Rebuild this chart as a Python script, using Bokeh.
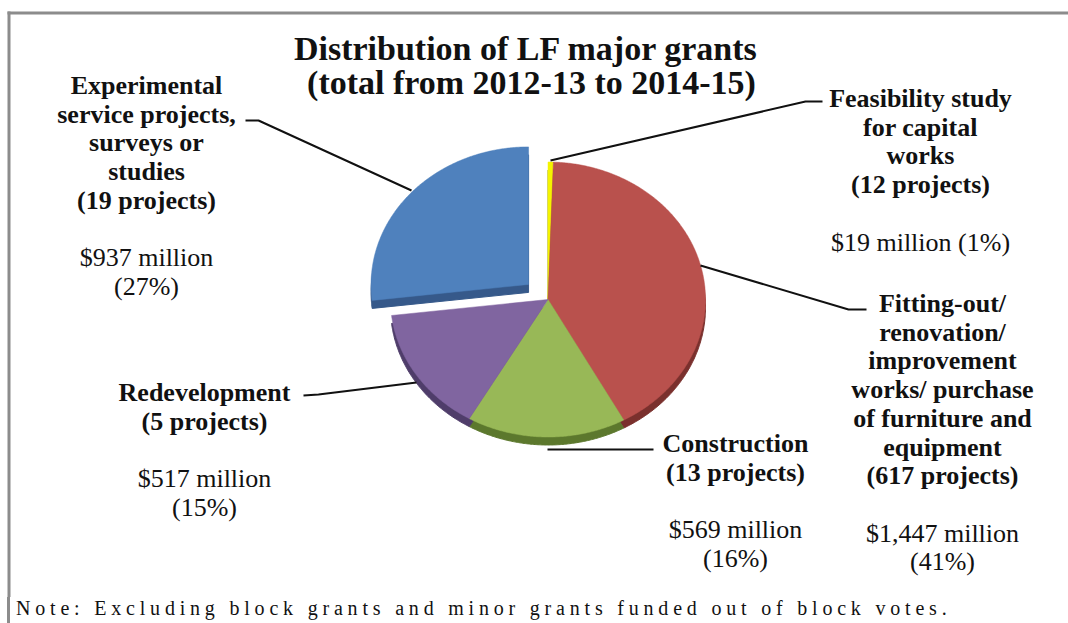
import numpy as np
from bokeh.plotting import figure
from bokeh.models import Range1d, Div
from bokeh.layouts import column
from bokeh.embed import file_html
from bokeh.resources import INLINE
from bokeh.core.properties import value

# ---------------- data ----------------
title_lines = ["Distribution  of LF major grants", "(total from 2012-13 to 2014-15)"]
categories = [
    "Feasibility study for capital works",
    "Fitting-out/ renovation/ improvement works/ purchase of furniture and equipment",
    "Construction",
    "Redevelopment",
    "Experimental service projects, surveys or studies",
]
name_lines = [
    ["Feasibility study", "for capital", "works"],
    ["Fitting-out/", "renovation/", "improvement", "works/ purchase", "of furniture and", "equipment"],
    ["Construction"],
    ["Redevelopment"],
    ["Experimental", "service projects,", "surveys or", "studies"],
]
projects = [12, 617, 13, 5, 19]
amounts = [19, 1447, 569, 517, 937]  # $ million
note = "Note: Excluding block grants and minor grants funded out of block votes."

# ---------------- style / layout ----------------
face_colors = ["#F4F400", "#B9514D", "#98B857", "#8065A0", "#4F81BD"]
side_colors = ["#9A9A00", "#7A302D", "#5C782D", "#4F3D6A", "#36598A"]
explode = [0, 0, 0, 0, 26]
label_anchor = [(920, 98), (942, 303), (735, 443), (204, 392), (146, 85)]
amount_one_line = [True, False, False, False, False]
LINE = 28.7

W, H = 1068, 597
p = figure(width=W, height=H, x_range=Range1d(0, W), y_range=Range1d(H, 0),
           output_backend="svg", toolbar_location=None, min_border=0,
           x_axis_location=None, y_axis_location=None)
p.grid.visible = False
p.outline_line_color = None
p.background_fill_color = "white"

# frame (top and left border)
p.line([7, W], [12.5, 12.5], line_color="#8c8c8c", line_width=3)
p.line([8.5, 8.5], [11, H], line_color="#8c8c8c", line_width=3)

# ---------------- pie ----------------
cx, cy, rx, ry, depth = 547.5, 299.0, 157.5, 137.5, 8
total = float(sum(amounts))
start = 90.0
faces_x, faces_y, sides_x, sides_y = [], [], [], []
for i, a in enumerate(amounts):
    sweep = a / total * 360.0
    a0, a1 = start, start - sweep
    start = a1
    th = np.radians(np.linspace(a0, a1, max(int(sweep * 2), 4)))
    mid = np.radians((a0 + a1) / 2)
    ox = explode[i] * np.cos(mid)
    oy = -explode[i] * np.sin(mid) * ry / rx
    xs = np.concatenate([[cx], cx + rx * np.cos(th)]) + ox
    ys = np.concatenate([[cy], cy - ry * np.sin(th)]) + oy
    faces_x.append(list(xs)); faces_y.append(list(ys))
    sides_x.append(list(xs)); sides_y.append(list(ys + depth))

p.patches(sides_x, sides_y, fill_color=side_colors, line_color=side_colors, line_width=1)
p.patches(faces_x, faces_y, fill_color=face_colors, line_color=face_colors, line_width=0.5)

# ---------------- leader lines ----------------
leaders_x = [[822, 805, 550], [700, 848, 866], [547, 653], [303, 318, 416], [245, 258, 411]]
leaders_y = [[101, 101, 160], [265, 309, 309], [449, 449], [395, 394, 382], [120, 120, 190]]
p.multi_line(leaders_x, leaders_y, line_color="#111111", line_width=2)

# ---------------- texts ----------------
FONT = value("Liberation Serif")
p.text(x=[530, 531], y=[48, 82], text=title_lines, text_align="center", text_baseline="middle",
       text_font=FONT, text_font_style="bold", text_font_size="34px", text_color="#111111")

bx, by, bt, rxs, rys, rts = [], [], [], [], [], []
for i in range(len(categories)):
    x0, y0 = label_anchor[i]
    lines = name_lines[i] + [f"({projects[i]} projects)"]
    for k, t in enumerate(lines):
        bx.append(x0); by.append(y0 + k * LINE); bt.append(t)
    yv = y0 + (len(lines) + 1) * LINE
    pct = f"({round(amounts[i] / total * 100)}%)"
    money = f"${amounts[i]:,} million"
    reg = [money + " " + pct] if amount_one_line[i] else [money, pct]
    for k, t in enumerate(reg):
        rxs.append(x0); rys.append(yv + k * LINE); rts.append(t)

p.text(x=bx, y=by, text=bt, text_align="center", text_baseline="middle",
       text_font=FONT, text_font_style="bold", text_font_size="26px", text_color="#111111")
p.text(x=rxs, y=rys, text=rts, text_align="center", text_baseline="middle",
       text_font=FONT, text_font_size="26px", text_color="#111111")

div = Div(text=note, width=W - 7, height=26, margin=(0, 0, 0, 7),
          styles={"font-family": "Liberation Serif", "font-size": "20px",
                  "letter-spacing": "4.8px", "color": "#111111",
                  "border-left": "3px solid #8c8c8c", "padding-left": "6px",
                  "line-height": "22px", "white-space": "nowrap"})

layout = column(p, div, spacing=0)
open("out.html", "w").write(file_html(layout, INLINE))
